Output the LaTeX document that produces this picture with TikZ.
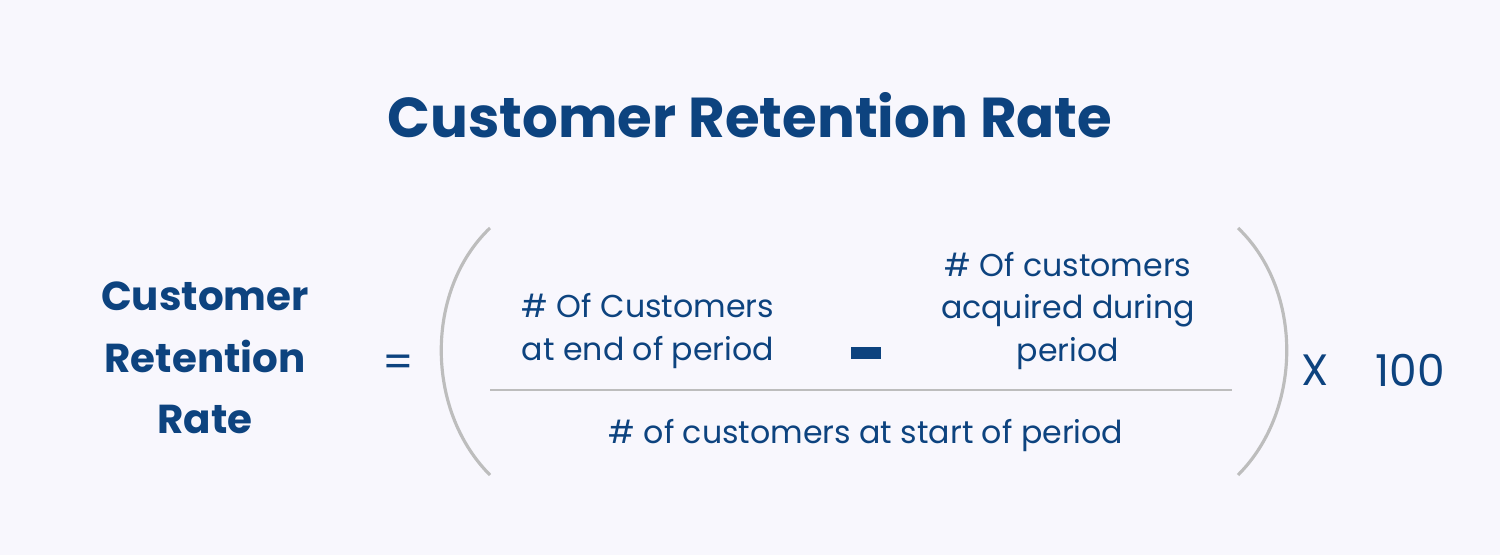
\documentclass[tikz,border=0pt]{standalone}
\usepackage{fontspec}
\setmainfont{Poppins}
\usetikzlibrary{positioning}
\definecolor{navy}{HTML}{0D437F}
\definecolor{paper}{HTML}{F8F7FD}
\definecolor{bracket}{HTML}{BDBDBD}
\tikzset{every picture/.style={line width=0.75pt}}
\tikzset{
  term/.style={text=navy, align=center, font=\fontsize{18}{24}\selectfont},
  big/.style={text=navy, font=\fontsize{25}{30}\selectfont},
  paren/.style={draw=bracket, line width=1.8pt}
}
\begin{document}
\begin{tikzpicture}[x=0.02cm,y=-0.02cm]
\fill[paper] (0,0) rectangle (1500,555);
\useasboundingbox (0,0) rectangle (1500,555);
\node[text=navy, font=\fontsize{32}{36}\selectfont\bfseries] (title) at (750,115) {Customer Retention Rate};
%
\node[text=navy, align=center, font=\fontsize{23}{35}\selectfont\bfseries] (lhs) at (205,358) {Customer\\Retention\\Rate};
\node[big] (eq) at (398,366) {=};
%
\draw[paren] (490,228) .. controls (425,290) and (425,410) .. (490,475);
\draw[paren] (1238,228) .. controls (1303,290) and (1303,410) .. (1238,475);
\coordinate (barl) at (490,390);
\coordinate (barr) at (1232,390);
\draw[draw=bracket, line width=1.5pt] (barl) -- (barr);
%
\node[term] (endp) at (648,331) {\# Of Customers\\at end of period};
\fill[navy] (851,347) rectangle (881,359);
\node[term] (acq) at (1068,311) {\# Of customers\\acquired during\\period};
\node[term] (start) at (866,436) {\# of customers at start of period};
%
\node[big] (times) at (1315,370) {X};
\node[big] (hund) at (1410,370) {100};
\end{tikzpicture}
\end{document}
